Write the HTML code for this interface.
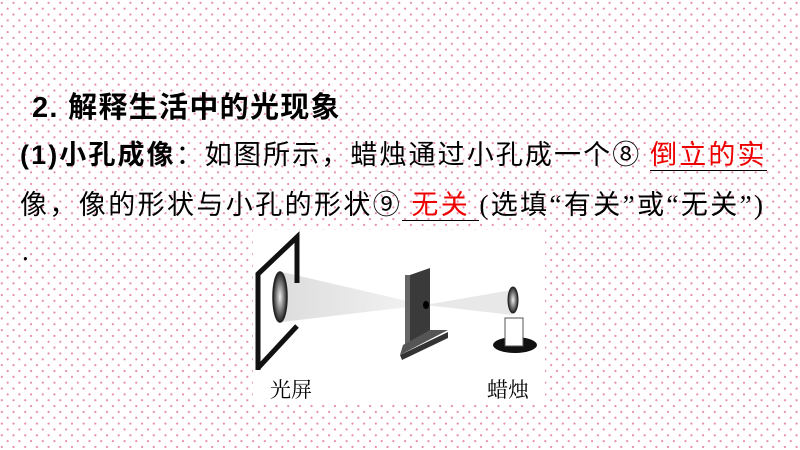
<!DOCTYPE html>
<html><head><meta charset="utf-8"><style>
html,body{margin:0;padding:0}
body{width:800px;height:450px;overflow:hidden;position:relative;background:#fff;
background-image:radial-gradient(circle,#e58aab 0.9px,transparent 1.3px),radial-gradient(circle,#e58aab 0.9px,transparent 1.3px);
background-size:11.7px 11.7px;background-position:-4px -3px,1.85px 2.85px;
font-family:"Liberation Serif","Noto Serif CJK SC","Noto Sans CJK SC",serif;}
.t{position:absolute;white-space:nowrap;font-size:27px;color:#000;}
.b{font-weight:bold;font-family:"Liberation Sans","Noto Sans CJK SC",sans-serif;}
.s{font-family:"Liberation Serif","Noto Sans CJK SC",sans-serif;}
.r{color:#e00;}
.u{border-bottom:1.5px solid #000;display:inline-block;line-height:30px}
</style></head><body>
<div class="t b" style="left:32px;top:84px;font-size:29px;letter-spacing:1.3px">2. 解释生活中的光现象</div>
<div class="t s" style="left:20px;top:133px;letter-spacing:2.1px"><span class="b">(1)小孔成像</span>：如图所示，蜡烛通过小孔成一个⑧ <span class="u r">倒立的实</span></div>
<div class="t s" style="left:20px;top:183px;letter-spacing:2.4px">像，像的形状与小孔的形状⑨<span class="u r">&nbsp;无关&nbsp;</span>(选填“有关”或“无关”)</div>
<div class="t s" style="left:22px;top:236px">.</div>
<svg style="position:absolute;left:0;top:0" width="800" height="450">
<defs>
<linearGradient id="ray" x1="0" x2="1"><stop offset="0" stop-color="#ddd"/><stop offset="1" stop-color="#f4f4f4"/></linearGradient>
<radialGradient id="el"><stop offset="0" stop-color="#eee"/><stop offset="1" stop-color="#222"/></radialGradient>
</defs>
<rect x="253" y="230" width="292" height="172" fill="#fff"/>
<polygon points="282,272 425,305 282,322" fill="url(#ray)"/>
<polygon points="425,305 512,290 512,315" fill="#e8e8e8"/>
<path d="M258,370 L258,274 L297,237 L297,283" fill="none" stroke="#111" stroke-width="5"/>
<path d="M297,326 L258,368" fill="none" stroke="#111" stroke-width="5"/>
<ellipse cx="280" cy="297" rx="7" ry="25" fill="url(#el)" stroke="#222" stroke-width="1.5"/>
<polygon points="410,275 430,268 430,330 410,345" fill="#3a3a3a"/>
<polygon points="405,275 410,275 410,345 405,348" fill="#666"/>
<polygon points="400,355 448,332 448,338 402,360" fill="#333"/>
<polygon points="403,345 430,330 448,330 400,355" fill="#555"/>
<ellipse cx="426" cy="305" rx="3" ry="4" fill="#000"/>
<ellipse cx="515" cy="345" rx="22" ry="8" fill="#111"/>
<rect x="505" y="318" width="18" height="28" fill="#fff" stroke="#555"/>
<ellipse cx="513" cy="300" rx="5" ry="13" fill="url(#el)" stroke="#222"/>
<text x="270" y="397" font-size="21" font-family="Noto Serif CJK SC,serif">光屏</text>
<text x="487" y="397" font-size="21" font-family="Noto Serif CJK SC,serif">蜡烛</text>
</svg>
</body></html>
